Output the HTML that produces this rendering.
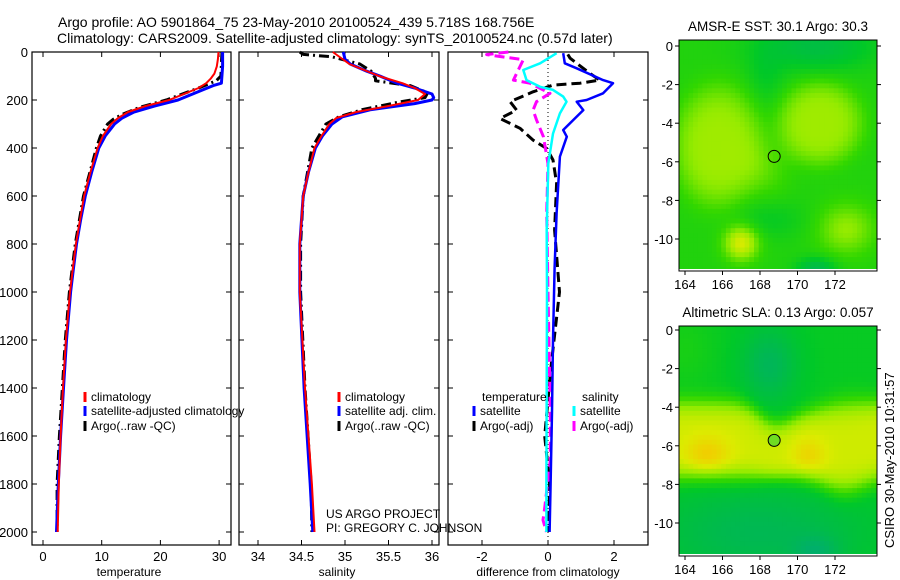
<!DOCTYPE html>
<html><head><meta charset="utf-8"><style>
body{margin:0;background:#fff;}
svg{display:block;font-family:"Liberation Sans",sans-serif;}
text{fill:#000;}
</style></head><body>
<svg id="fig" width="900" height="580" viewBox="0 0 900 580" xmlns="http://www.w3.org/2000/svg">
<text x="58" y="27" font-size="14">Argo profile: AO 5901864_75 23-May-2010 20100524_439 5.718S 168.756E</text>
<text x="57" y="43" font-size="14">Climatology: CARS2009. Satellite-adjusted climatology: synTS_20100524.nc (0.57d later)</text>
<g id="maps"></g>
<g id="panels"></g>
<text x="129" y="576" font-size="12" text-anchor="middle">temperature</text>
<text x="337" y="576" font-size="12" text-anchor="middle">salinity</text>
<text x="548" y="576" font-size="12" text-anchor="middle">difference from climatology</text>
<text x="326" y="518" font-size="12">US ARGO PROJECT</text>
<text x="326" y="532" font-size="12">PI: GREGORY C. JOHNSON</text>
<text x="778" y="31" font-size="13.5" text-anchor="middle">AMSR-E SST: 30.1 Argo: 30.3</text>
<text x="778" y="317" font-size="13.5" text-anchor="middle">Altimetric SLA: 0.13 Argo: 0.057</text>
<text x="0" y="0" font-size="13" transform="translate(894,548) rotate(-90)">CSIRO 30-May-2010 10:31:57</text>
</svg>
<script>
// ---- data ----
const depthRedT=[0,30,60,90,110,130,150,175,200,225,250,275,300,350,400,500,600,700,800,900,1000,1200,1400,1600,1800,2000];
const tempClim=[29.9,29.8,29.6,29.2,28.6,27.8,26.5,24,21.5,17.5,14.5,12.8,11.6,10.2,9.3,8.1,7,6.3,5.6,5.1,4.6,3.9,3.4,3.0,2.7,2.5];
const depthBlueT=[0,60,130,140,160,200,225,250,275,300,350,400,500,600,700,800,900,1000,1200,1400,1600,1800,2000];
const tempSat=[30.6,30.6,30.4,29,27,23,19,15.5,13.5,12.2,10.6,9.5,8.3,7.2,6.4,5.7,5.2,4.7,4.0,3.5,3.0,2.6,2.3];
const depthArgoT=[0,50,100,120,150,200,230,260,280,300,350,400,500,600,700,800,900,1000,1200,1400,1600,1800,2000];
const tempArgo=[30.5,30.4,30.3,29.5,26.5,21,16.5,13.5,12,11,9.8,9.1,8.0,6.9,6.2,5.5,5.0,4.5,3.8,3.3,2.8,2.4,2.4];

const depthRedS=[0,50,100,130,150,175,200,225,250,275,300,350,400,500,600,800,1000,1400,1800,2000];
const salClim=[34.86,35.05,35.39,35.66,35.8,35.92,35.84,35.5,35.13,34.9,34.82,34.73,34.65,34.58,34.52,34.48,34.48,34.54,34.62,34.65];
const depthBlueS=[0,30,50,80,100,130,150,175,190,200,215,240,270,300,350,400,500,600,800,1000,1400,1800,2000];
const salSat=[34.98,35.0,35.06,35.25,35.4,35.6,35.8,36.0,36.02,36.0,35.8,35.3,34.97,34.85,34.74,34.66,34.58,34.52,34.48,34.48,34.53,34.6,34.63];
const depthArgoS=[0,10,20,50,80,110,120,140,170,190,210,240,270,300,350,400,500,600,800,1000,1400,1800,2000];
const salArgo=[34.48,34.52,34.85,35.17,35.3,35.35,35.35,35.75,35.95,35.92,35.6,35.2,34.93,34.78,34.7,34.62,34.57,34.52,34.49,34.49,34.54,34.61,34.62];

const depthDT=[5,47,68,117,130,172,200,207,242,283,325,353,436,672,900,1200,1500,1800,2000];
const diffTSat=[0.46,0.51,0.87,1.67,1.97,1.67,1.17,0.87,1.07,0.77,0.46,0.57,0.36,0.26,0.2,0.15,0.12,0.08,0.05];
const depthDS=[5,47,75,117,145,158,186,207,256,340,465,742,1000,1400,1800,2000];
const diffSSat=[0.26,-0.24,-0.75,-0.65,-0.24,0.15,0.46,0.56,0.36,0.15,0.01,-0.04,-0.03,-0.04,-0.05,-0.05];
const depthDTA=[10,26,89,117,130,138,166,207,242,277,318,367,402,450,547,742,1000,1300,1600,1800,2000];
const diffTArgo=[0.6,0.67,1.27,1.57,0.97,0.15,-0.45,-1.15,-0.95,-1.45,-0.85,-0.45,-0.04,0.15,0.26,0.2,0.35,0.1,-0.1,0.05,0.02];
const depthDSA=[0,11,32,117,130,172,207,242,283,353,465,672,1000,1500,1700,1900,1950,2000];
const diffSArgo=[-1.2,-1.86,-0.75,-1.05,-0.55,0.06,-0.35,-0.45,-0.35,-0.14,0,-0.04,0.0,0.07,0.07,-0.1,-0.15,-0.05];

const depthTicks=[0,200,400,600,800,1000,1200,1400,1600,1800,2000];
const tempTicks=[0,10,20,30];
const salTicks=[34,34.5,35,35.5,36];
const diffTicks=[-2,0,2];
const lonTicks=[164,166,168,170,172];
const latTicks=[0,-2,-4,-6,-8,-10];

// ---- helpers ----
const NS='http://www.w3.org/2000/svg';
function mk(tag,attrs,parent){const e=document.createElementNS(NS,tag);for(const k in attrs)e.setAttribute(k,attrs[k]);parent.appendChild(e);return e;}
const yD=d=>52+d*0.24;
const xT=t=>43+5.87*t;
const xS=s=>258+87*(s-34);
const xD=v=>548+33*v;
const P=document.getElementById('panels');
const TOP=52,BOT=545;

function frame(x0,x1,name,ticks,xf,fmt,leftLabels){
  const g=mk('g',{},P);
  
  
  const r=mk('rect',{x:x0,y:TOP,width:x1-x0,height:BOT-TOP,fill:'none',stroke:'#000','stroke-width':1.2},g);
  
  
  depthTicks.forEach(d=>{
    const y=yD(d);
    mk('line',{x1:x0,x2:x0+5,y1:y,y2:y,stroke:'#000'},g);
    mk('line',{x1:x1,x2:x1-5,y1:y,y2:y,stroke:'#000'},g);
    if(leftLabels){const t=mk('text',{x:x0-4,y:y+5,'font-size':13,'text-anchor':'end'},g);t.textContent=d;
      
      }
  });
  ticks.forEach(v=>{
    const x=xf(v);
    mk('line',{x1:x,x2:x,y1:BOT,y2:BOT-5,stroke:'#000'},g);
    mk('line',{x1:x,x2:x,y1:TOP,y2:TOP+5,stroke:'#000'},g);
    const t=mk('text',{x:x,y:BOT+16,'font-size':13,'text-anchor':'middle'},g);t.textContent=fmt(v);
    
    
  });
  return g;
}
function line(g,ds,vs,xf,color,w,dash,name){
  const pts=ds.map((d,i)=>xf(vs[i]).toFixed(1)+','+yD(d).toFixed(1)).join(' ');
  const p=mk('polyline',{points:pts,fill:'none',stroke:color,'stroke-width':w,'stroke-linejoin':'round'},g);
  if(dash)p.setAttribute('stroke-dasharray',dash);
  
  
}
function legend(g,x,y,color,label,name){
  const m=mk('line',{x1:x,x2:x,y1:y-5,y2:y+5,stroke:color,'stroke-width':3},g);
  
  
  const t=mk('text',{x:x+6,y:y+4,'font-size':12},g);t.textContent=label;
  
  
}
// temperature panel
const g1=frame(32,231,'temperature-panel',tempTicks,xT,v=>v,true);
line(g1,depthArgoT,tempArgo,xT,'#000',3,'10,4,2,4','temp-argo-line');
line(g1,depthBlueT,tempSat,xT,'#0000ff',3,null,'temp-satellite-line');
line(g1,depthRedT,tempClim,xT,'#ff0000',2,null,'temp-climatology-line');
legend(g1,85,397,'#ff0000','climatology','legend-temp-climatology');
legend(g1,85,411,'#0000ff','satellite-adjusted climatology','legend-temp-satellite');
legend(g1,85,426,'#000','Argo(..raw -QC)','legend-temp-argo');
// salinity panel
const g2=frame(239,439,'salinity-panel',salTicks,xS,v=>v,false);
line(g2,depthArgoS,salArgo,xS,'#000',3,'10,4,2,4','sal-argo-line');
line(g2,depthBlueS,salSat,xS,'#0000ff',3,null,'sal-satellite-line');
line(g2,depthRedS,salClim,xS,'#ff0000',2,null,'sal-climatology-line');
legend(g2,339,397,'#ff0000','climatology','legend-sal-climatology');
legend(g2,339,411,'#0000ff','satellite adj. clim.','legend-sal-satellite');
legend(g2,339,426,'#000','Argo(..raw -QC)','legend-sal-argo');
// difference panel
const g3=frame(448,648,'difference-panel',diffTicks,xD,v=>v,false);
const zl=mk('line',{x1:xD(0),x2:xD(0),y1:TOP,y2:BOT,stroke:'#000','stroke-dasharray':'1,3'},g3);


line(g3,depthDTA,diffTArgo,xD,'#000',3,'10,5','diff-temp-argo-line');
line(g3,depthDSA,diffSArgo,xD,'#ff00ff',3,'10,5','diff-sal-argo-line');
line(g3,depthDT,diffTSat,xD,'#0000ff',2.5,null,'diff-temp-satellite-line');
line(g3,depthDS,diffSSat,xD,'#00ffff',2.5,null,'diff-sal-satellite-line');
let tt=mk('text',{x:482,y:401,'font-size':12},g3);tt.textContent='temperature';


tt=mk('text',{x:582,y:401,'font-size':12},g3);tt.textContent='salinity';


legend(g3,474,411,'#0000ff','satellite','legend-diff-temp-satellite');
legend(g3,474,426,'#000','Argo(-adj)','legend-diff-temp-argo');
legend(g3,574,411,'#00ffff','satellite','legend-diff-sal-satellite');
legend(g3,574,426,'#ff00ff','Argo(-adj)','legend-diff-sal-argo');

// ---- maps ----
const M=document.getElementById('maps');
const LON0=163.68,LON1=174.24,LAT0=0.31,LAT1=-11.66;
const cmap=[[0,[0,170,120]],[0.3,[0,200,40]],[0.45,[50,215,0]],[0.6,[150,235,0]],[0.75,[220,235,0]],[0.9,[245,200,0]],[1,[245,170,0]]];
function col(v){v=Math.max(0,Math.min(1,v));for(let i=1;i<cmap.length;i++){if(v<=cmap[i][0]){const a=cmap[i-1],b=cmap[i],f=(v-a[0])/(b[0]-a[0]);return 'rgb('+a[1].map((c,k)=>Math.round(c+(b[1][k]-c)*f)).join(',')+')';}}return 'rgb(245,170,0)';}
const sq=v=>v*v;
const G=(x,y,cx,cy,rx,ry)=>Math.exp(-sq((x-cx)/rx)-sq((y-cy)/ry));
const G4=(x,y,cx,cy,rx,ry)=>Math.exp(-sq(sq((x-cx)/rx)+sq((y-cy)/ry)));
const sstField=(x,y)=>0.4+0.22*G4(x,y,165.8,-5.2,2.4,3.2)+0.22*G4(x,y,171.2,-4,2.3,2.2)+0.08*G(x,y,168.5,-6.5,1.2,1.5)+0.35*G(x,y,167,-10.2,0.9,0.9)+0.2*G(x,y,172.6,-9.5,1.5,1.3)-0.2*G(x,y,171,0,3,1.2)-0.25*G(x,y,171,-11.6,1,0.6)-0.08*G(x,y,168.5,-9,2,1)-0.08*G(x,y,168.3,-1.5,1,1.5);
const slaField=(x,y)=>{
  const top=-3.6-0.9*G(x,0,168.8,0,1.3,1)-0.4*G(x,0,170.5,0,1.5,1);
  const bot=-7.8-0.7*G(x,0,172.5,0,1.5,1);
  const c=(top+bot)/2,h=(top-bot)/2;
  const band=Math.exp(-sq(sq((y-c)/h)));
  const base=0.32-0.2*G(x,y,168.5,-1.8,1.5,2)-0.18*G(x,y,168,-10.5,6,2.5)-0.15*G(x,y,171,-11.5,1.2,0.8)+0.05*G(x,y,164,-1,1.5,2);
  return base*(1-band)+band*(0.72+0.16*G(x,y,165.2,-6.5,1.2,1)+0.12*G(x,y,170.6,-6.5,0.9,0.9)-0.1*G(x,y,168.8,-4.5,1,1));
};
function map(ytop,ybot,lat0y,field,name,circleFill){
  const g=mk('g',{},M);
  
  
  const mx=l=>685+18.75*(l-164), my=l=>lat0y-19.3*l;
  const step=0.25;
  for(let lat=LAT0;lat>LAT1;lat-=step){
    for(let lon=LON0;lon<LON1;lon+=step){
      const x0=mx(lon),y0=my(lat);
      mk('rect',{x:x0.toFixed(1),y:y0.toFixed(1),width:(step*18.75+0.6).toFixed(1),height:(step*19.3+0.6).toFixed(1),fill:col(field(lon+step/2,lat-step/2))},g);
    }
  }
  mk('rect',{x:678,y:ybot-2,width:220,height:14,fill:'#fff'},g);
  mk('rect',{x:877,y:ytop-6,width:20,height:ybot-ytop+8,fill:'#fff'},g);
  mk('rect',{x:679,y:ytop-6,width:200,height:6,fill:'#fff'},g);
  const fr=mk('rect',{x:679,y:ytop,width:198,height:ybot-ytop,fill:'none',stroke:'#000'},g);
  
  
  lonTicks.forEach(l=>{const x=mx(l);mk('line',{x1:x,x2:x,y1:ybot,y2:ybot+4,stroke:'#000'},g);
    const t=mk('text',{x:x,y:ybot+18,'font-size':13,'text-anchor':'middle'},g);t.textContent=l;
    
    });
  latTicks.forEach(l=>{const y=my(l);mk('line',{x1:675,x2:679,y1:y,y2:y,stroke:'#000'},g);mk('line',{x1:877,x2:881,y1:y,y2:y,stroke:'#000'},g);
    const t=mk('text',{x:673,y:y+5,'font-size':13,'text-anchor':'end'},g);t.textContent=l;
    
    });
  const c=mk('circle',{cx:mx(168.756),cy:my(-5.718),r:6,fill:circleFill,stroke:'#000','stroke-width':1},g);
  
  
}
map(40,271,46,sstField,'sst-map','none');
map(326,556,330,slaField,'sla-map','#6fdc22');
</script>
</body></html>
